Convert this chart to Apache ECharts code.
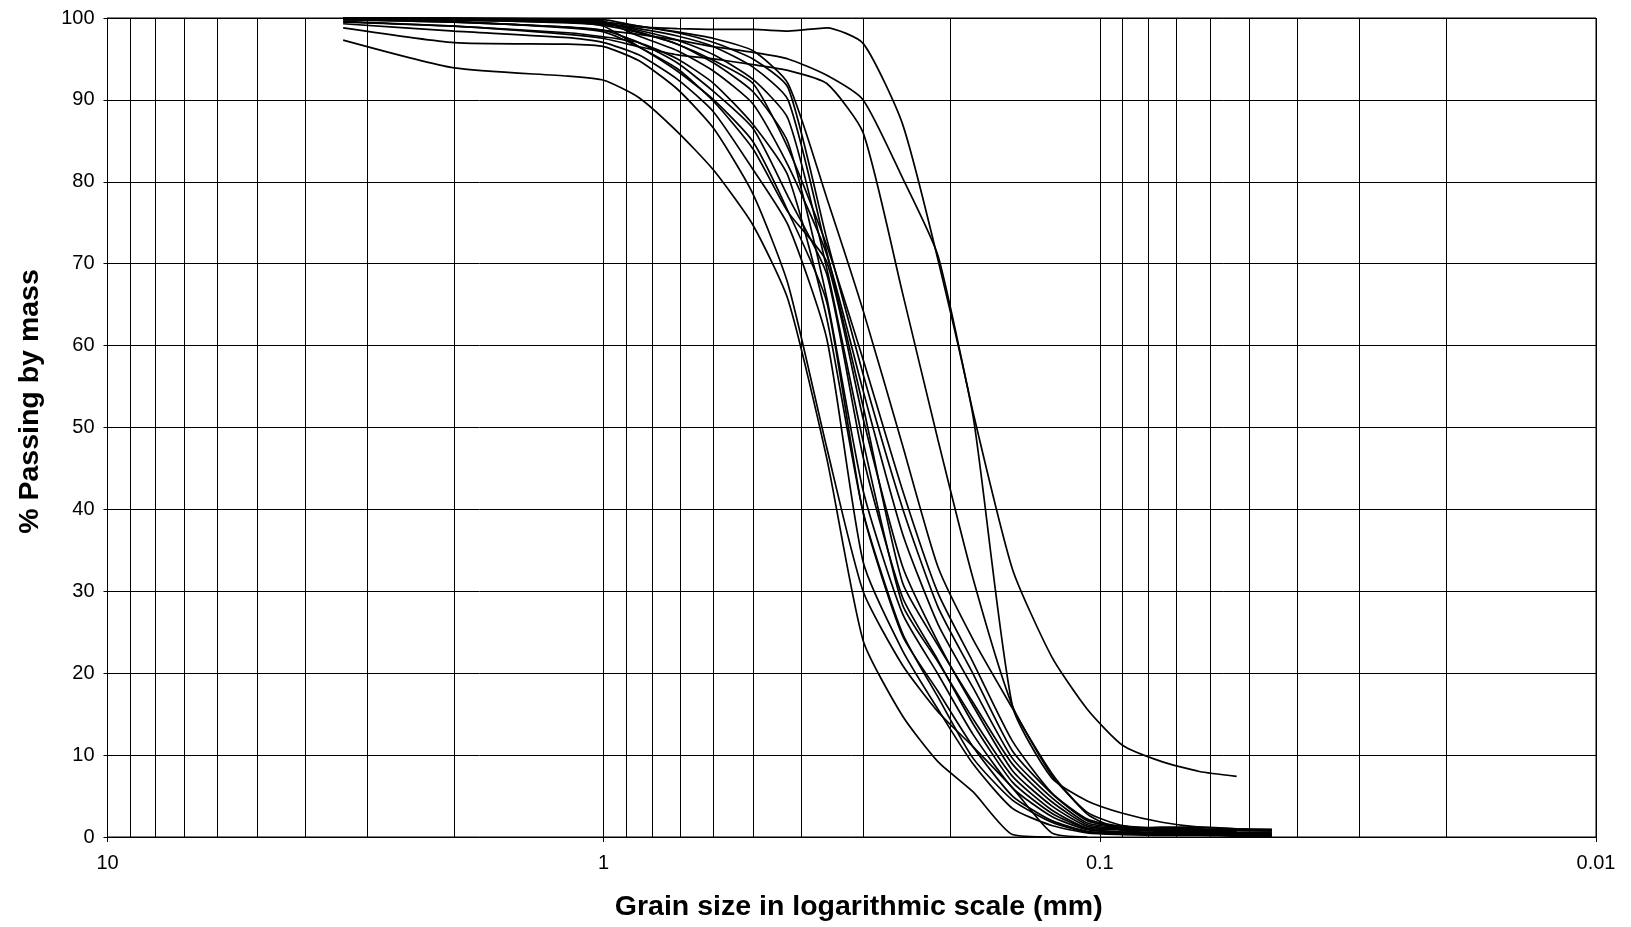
<!DOCTYPE html>
<html>
<head>
<meta charset="utf-8">
<script src="https://cdn.jsdelivr.net/npm/echarts@6/dist/echarts.min.js"></script>
<style>
html,body{margin:0;padding:0;background:#fff;}
#chart{width:1631px;height:927px;}
</style>
</head>
<body>
<div id="chart"></div>
<script>
// Sieve sizes (mm) shared by all curves
const sizes = [3.35, 2.0, 1.18, 1.0, 0.85, 0.71, 0.6, 0.5, 0.425, 0.355, 0.3, 0.25, 0.212, 0.18, 0.15, 0.125, 0.106, 0.09, 0.075, 0.063, 0.053, 0.045];

// % passing for each sample
const sampleL1 = [97.3, 93.9, 92.9, 92.4, 90.3, 86.1, 81.4, 74.7, 65.6, 46.2, 24.0, 14.8, 9.2, 5.5, 0.3, 0, null, null, null, null, null, null];
const sampleL2 = [98.8, 97.0, 96.8, 96.5, 94.8, 91.3, 86.5, 78.5, 67.5, 47.5, 30.0, 21.0, 15.3, 11.0, 6.0, 0.5, 0, null, null, null, null, null];
const sampleM1 = [99.3, 98.4, 97.6, 97.0, 95.5, 92.5, 88.5, 81.5, 74.7, 60.8, 33.6, 22.8, 15.6, 8.9, 3.5, 1.4, 0.5, 0.3, 0.2, 0.2, 0.1, 0.1];
const sampleM2 = [99.6, 99.0, 98.2, 97.7, 97.0, 95.0, 92.0, 87.0, 80.7, 63.3, 39.7, 24.9, 17.1, 9.6, 4.5, 1.8, 0.6, 0.4, 0.3, 0.3, 0.2, 0.2];
const sampleM3 = [100, 99.6, 98.8, 98.3, 96.5, 93.5, 90.0, 84.9, 76.4, 65.3, 39.6, 24.6, 17.8, 11.0, 5.0, 2.0, 0.7, 0.5, 0.4, 0.3, 0.3, null];
const sampleM4 = [100, 99.8, 99.4, 99.1, 98.2, 96.8, 94.5, 91.0, 84.8, 65.8, 42.3, 27.3, 19.9, 12.5, 6.0, 2.5, 0.9, 0.6, 0.5, 0.5, 0.4, 0.3];
const sampleM5 = [99.8, 99.5, 98.9, 98.5, 97.0, 94.5, 91.0, 86.5, 78.2, 68.7, 46.4, 29.3, 21.6, 13.8, 6.7, 2.9, 1.0, 0.6, 0.5, 0.4, 0.4, 0.3];
const sampleM6 = [100, 99.9, 99.6, 99.4, 98.5, 97.3, 95.5, 92.5, 87.7, 69.4, 48.3, 28.4, 21.4, 14.4, 7.4, 3.3, 1.1, 0.9, 1.2, 1.2, 1.0, 0.9];
const sampleM7 = [100, 100, 99.5, 99.0, 96.5, 93.8, 89.8, 84.0, 76.3, 70.2, 51.1, 33.1, 23.8, 16.0, 8.1, 3.8, 1.3, 0.9, 0.7, 0.6, 0.5, 0.4];
const sampleM8 = [99.8, 99.7, 99.5, 99.3, 98.7, 97.8, 96.5, 94.0, 90.0, 71.4, 52.6, 31.1, 23.4, 16.4, 8.9, 4.3, 1.5, 1.0, 0.8, 0.7, 0.6, null];
const sampleM9 = [100, 100, 99.8, 99.6, 97.8, 96.0, 93.5, 89.5, 82.0, 71.1, 54.5, 37.1, 26.0, 18.2, 9.6, 4.8, 1.7, 1.1, 0.9, 0.8, 0.6, 0.5];
const sampleM10 = [100, 100, 99.9, 99.8, 99.0, 98.2, 97.0, 95.0, 91.5, 73.0, 56.5, 40.2, 28.1, 19.9, 10.5, 5.3, 2.0, 1.2, 1.0, 0.9, 0.8, 0.7];
const sampleM11 = [100, 99.9, 99.7, 99.5, 98.3, 96.8, 94.8, 92.0, 84.1, 72.2, 58.3, 42.4, 29.8, 21.3, 11.7, 5.4, 2.2, 1.3, 1.0, 0.9, 0.8, 0.8];
const sampleM12 = [100, 99.9, 99.7, 99.5, 99.0, 98.3, 97.5, 96.0, 92.0, 78.0, 64.3, 47.9, 33.0, 24.1, 15.7, 7.5, 3.0, 1.4, 1.1, 1.0, 0.9, 0.9];
const sampleC = [99.5, 99.0, 98.0, 97.5, 96.5, 95.5, 95.0, 94.3, 93.6, 92.0, 86.0, 66.5, 48.5, 31.5, 16.0, 7.8, 2.8, 0.8, 0.5, 0.4, 0.3, 0.3];
const sampleA = [100, 99.9, 99.5, 99.2, 98.9, 98.7, 98.6, 98.6, 98.4, 98.8, 96.9, 87.1, 70.5, 51.3, 16.0, 7.2, 4.4, 2.9, 1.8, 1.2, 1.0, 0.9];
const sampleB = [99.8, 99.5, 98.9, 98.5, 98.0, 97.3, 96.5, 95.8, 95.0, 93.0, 90.0, 80.5, 71.0, 51.8, 32.7, 22.0, 15.6, 11.2, 9.2, 8.0, 7.4, null];

const samples = [sampleL1, sampleL2, sampleM1, sampleM2, sampleM3, sampleM4, sampleM5, sampleM6, sampleM7, sampleM8, sampleM9, sampleM10, sampleM11, sampleM12, sampleC, sampleA, sampleB];

// Minor vertical grid lines (sizes in mm)
const minorGridSizes = [9, 8, 7, 6, 5, 4, 3, 2, 0.9, 0.8, 0.7, 0.6, 0.5, 0.4, 0.3, 0.2, 0.09, 0.08, 0.07, 0.06, 0.05, 0.04, 0.03, 0.02];

// Axis text
const xAxisTitle = 'Grain size in logarithmic scale (mm)';
const yAxisTitle = '% Passing by mass';

const FONT = "'Liberation Sans', Arial, sans-serif";

const series = samples.map((vals, i) => {
  const s = {
    type: 'line',
    name: 'S' + (i + 1),
    data: sizes.map((d, j) => [d, vals[j]]),
    showSymbol: false,
    symbol: 'none',
    connectNulls: false,
    smooth: 0.2,
    lineStyle: { color: '#000', width: 1.7 },
    itemStyle: { color: '#000' },
    silent: true,
    animation: false,
    z: 3
  };
  if (i === 0) {
    s.markLine = {
      silent: true,
      symbol: ['none', 'none'],
      label: { show: false },
      lineStyle: { color: '#000', width: 1, type: 'solid' },
      animation: false,
      z: 1,
      data: minorGridSizes.map(v => ({ xAxis: v }))
    };
  }
  return s;
});

const chart = echarts.init(document.getElementById('chart'), null, { renderer: 'canvas' });
chart.setOption({
  backgroundColor: '#fff',
  animation: false,
  grid: {
    left: 107.5, right: 35, top: 18, bottom: 90,
    show: true, borderColor: '#000', borderWidth: 1, backgroundColor: 'transparent'
  },
  xAxis: {
    type: 'log',
    logBase: 10,
    inverse: true,
    min: 0.01,
    max: 10,
    name: xAxisTitle,
    nameLocation: 'middle',
    nameGap: 56,
    nameTextStyle: { fontFamily: FONT, fontSize: 28.5, fontWeight: 'bold', color: '#000', padding: [0, 0, 0, 14] },
    axisLine: { show: true, lineStyle: { color: '#000', width: 1 } },
    axisTick: { show: true, inside: false, length: 5, lineStyle: { color: '#000' } },
    axisLabel: {
      fontFamily: FONT, fontSize: 20, color: '#000', margin: 16,
      formatter: v => String(+Number(v).toPrecision(6))
    },
    splitLine: { show: true, lineStyle: { color: '#000', width: 1 } },
    minorTick: { show: false },
    minorSplitLine: { show: false }
  },
  yAxis: {
    type: 'value',
    min: 0,
    max: 100,
    interval: 10,
    name: yAxisTitle,
    nameLocation: 'middle',
    nameGap: 63,
    nameTextStyle: { fontFamily: FONT, fontSize: 28.5, fontWeight: 'bold', color: '#000', padding: [0, 0, 0, 52] },
    axisLine: { show: true, lineStyle: { color: '#000', width: 1 } },
    axisTick: { show: true, inside: false, length: 4, lineStyle: { color: '#000' } },
    axisLabel: { fontFamily: FONT, fontSize: 20, color: '#000', margin: 13 },
    splitLine: { show: true, lineStyle: { color: '#000', width: 1 } }
  },
  series: series
});
</script>
</body>
</html>
